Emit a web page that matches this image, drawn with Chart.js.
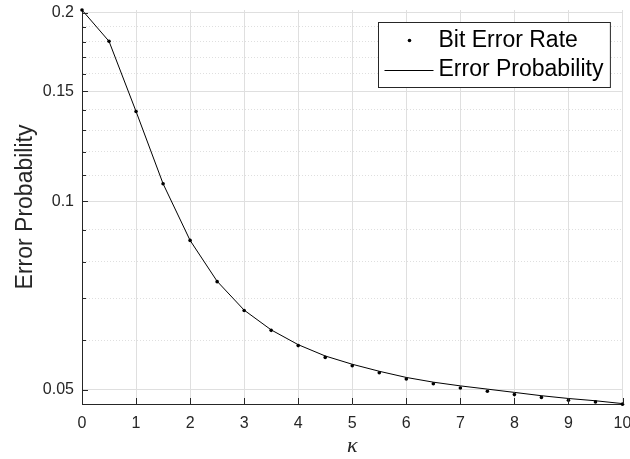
<!DOCTYPE html>
<html>
<head>
<meta charset="utf-8">
<script src="https://cdn.jsdelivr.net/npm/chart.js@4.4.0/dist/chart.umd.min.js"></script>
<style>
  html, body { margin: 0; padding: 0; background: #fff; }
  #wrap { width: 630px; height: 459px; }
</style>
</head>
<body>
<div id="wrap"><canvas id="chart" width="630" height="459"></canvas></div>
<script>
// kappa values, shared by both series
const kappa = [0, 0.5, 1, 1.5, 2, 2.5, 3, 3.5, 4, 4.5, 5, 5.5, 6, 6.5, 7, 7.5, 8, 8.5, 9, 9.5, 10];

// simulated bit error rate (dots)
const bitErrorRate = [0.2022, 0.1802, 0.1392, 0.1067, 0.0866, 0.0744, 0.0669, 0.0622, 0.0588,
  0.0563, 0.0546, 0.0532, 0.0520, 0.0511, 0.0503, 0.0497, 0.0491, 0.0486, 0.0481, 0.0478, 0.0474];

// analytical error probability (line)
const errorProbability = [0.2022, 0.1802, 0.1392, 0.1067, 0.0866, 0.0745, 0.0670, 0.0623, 0.0590,
  0.0566, 0.0549, 0.0535, 0.0523, 0.0514, 0.0507, 0.0501, 0.0495, 0.0489, 0.0484, 0.0480, 0.0475];

// axis ticks
const xTicks = [0, 1, 2, 3, 4, 5, 6, 7, 8, 9, 10];
const yTicks = [0.05, 0.06, 0.07, 0.08, 0.09, 0.1, 0.11, 0.12, 0.13, 0.14, 0.15, 0.16, 0.17, 0.18, 0.19, 0.2];
const yLabelled = ['0.05', '0.1', '0.15', '0.2'];

const axisColor = '#262626';
const gridColor = '#dfdfdf';
const fontFamily = "'Liberation Sans', Arial, Helvetica, sans-serif";

function isMajorY(v) {
  return yLabelled.indexOf(String(+v.toFixed(2))) >= 0;
}

// MATLAB style inward ticks and a boxed legend inside the axes
const matlabExtras = {
  id: 'matlabExtras',
  afterDraw(chart) {
    const { ctx, chartArea: a, scales: { x, y } } = chart;
    ctx.save();
    ctx.strokeStyle = axisColor;
    ctx.lineWidth = 1;
    ctx.beginPath();
    x.ticks.forEach(t => {
      const px = Math.round(x.getPixelForValue(t.value)) + 0.5;
      ctx.moveTo(px, a.bottom);
      ctx.lineTo(px, a.bottom - 6);
    });
    y.ticks.forEach(t => {
      const py = Math.round(y.getPixelForValue(t.value)) + 0.5;
      const len = isMajorY(t.value) ? 6 : 4;
      ctx.moveTo(a.left, py);
      ctx.lineTo(a.left + len, py);
    });
    ctx.stroke();

    // legend
    const ds = chart.data.datasets;
    ctx.font = '23px ' + fontFamily;
    const textW = Math.max(...ds.map(d => ctx.measureText(d.label).width));
    const boxW = 60 + textW + 7;
    const boxH = 65;
    const bx = Math.round(a.right - 13 - boxW) + 0.5;
    const by = Math.round(a.top + 12) + 0.5;
    ctx.fillStyle = '#fff';
    ctx.fillRect(bx, by, boxW, boxH);
    ctx.strokeStyle = axisColor;
    ctx.strokeRect(bx, by, boxW, boxH);

    const rows = [by + 18, by + 47.5];
    // dot entry
    ctx.fillStyle = '#000';
    ctx.beginPath();
    ctx.arc(bx + 31, rows[0], 1.8, 0, Math.PI * 2);
    ctx.fill();
    // line entry
    ctx.strokeStyle = '#000';
    ctx.beginPath();
    ctx.moveTo(bx + 6, Math.round(rows[1]) + 0.5);
    ctx.lineTo(bx + 55, Math.round(rows[1]) + 0.5);
    ctx.stroke();

    ctx.fillStyle = '#000';
    ctx.textBaseline = 'middle';
    ctx.textAlign = 'left';
    ctx.fillText(ds[1].label, bx + 60, rows[0]);
    ctx.fillText(ds[0].label, bx + 60, rows[1]);
    ctx.restore();
  }
};

const config = {
  type: 'scatter',
  data: {
    datasets: [{
      label: 'Error Probability',
      data: kappa.map((k, i) => ({ x: k, y: errorProbability[i] })),
      showLine: true,
      borderColor: '#000',
      borderWidth: 1,
      pointRadius: 0,
      clip: false,
      order: 2
    }, {
      label: 'Bit Error Rate',
      data: kappa.map((k, i) => ({ x: k, y: bitErrorRate[i] })),
      showLine: false,
      backgroundColor: '#000',
      borderColor: '#000',
      pointRadius: 1.8,
      borderWidth: 0,
      clip: false,
      order: 1
    }]
  },
  options: {
    responsive: false,
    animation: false,
    layout: { padding: { left: 0, right: 7.5, top: 10, bottom: 0 } },
    plugins: {
      legend: { display: false },
      tooltip: { enabled: false }
    },
    scales: {
      x: {
        type: 'linear',
        min: 0,
        max: 10,
        afterBuildTicks(scale) {
          scale.ticks = xTicks.map(v => ({ value: v }));
        },
        afterFit(scale) {
          scale.height = 55;
          scale.paddingLeft = 0;
          scale.paddingRight = 0;
        },
        grid: { color: gridColor, lineWidth: 1, drawTicks: false },
        border: { color: axisColor, width: 1 },
        ticks: {
          color: axisColor,
          font: { family: fontFamily, size: 16 },
          padding: 10,
          maxRotation: 0,
          autoSkip: false
        },
        title: {
          display: true,
          text: 'κ',
          color: axisColor,
          font: { family: "'Liberation Serif', 'DejaVu Serif', serif", size: 22, style: 'italic' },
          padding: { top: 0, bottom: 0 }
        }
      },
      y: {
        type: 'logarithmic',
        min: 0.04743,
        max: 0.2022,
        afterBuildTicks(scale) {
          scale.ticks = yTicks.map(v => ({ value: v }));
        },
        afterFit(scale) {
          scale.width = 82;
          scale.paddingTop = 0;
          scale.paddingBottom = 0;
        },
        grid: { color: gridColor, lineWidth: 1, drawTicks: false },
        border: {
          color: axisColor,
          width: 1,
          dash: ctx => (ctx.tick && !isMajorY(ctx.tick.value)) ? [1, 2] : []
        },
        ticks: {
          color: axisColor,
          font: { family: fontFamily, size: 16 },
          padding: 8,
          autoSkip: false,
          callback: v => isMajorY(v) ? String(+v.toFixed(2)) : ''
        },
        title: {
          display: true,
          text: 'Error Probability',
          color: axisColor,
          font: { family: fontFamily, size: 23 },
          padding: { top: 12, bottom: 0 }
        }
      }
    }
  },
  plugins: [matlabExtras]
};

new Chart(document.getElementById('chart'), config);
</script>
</body>
</html>
